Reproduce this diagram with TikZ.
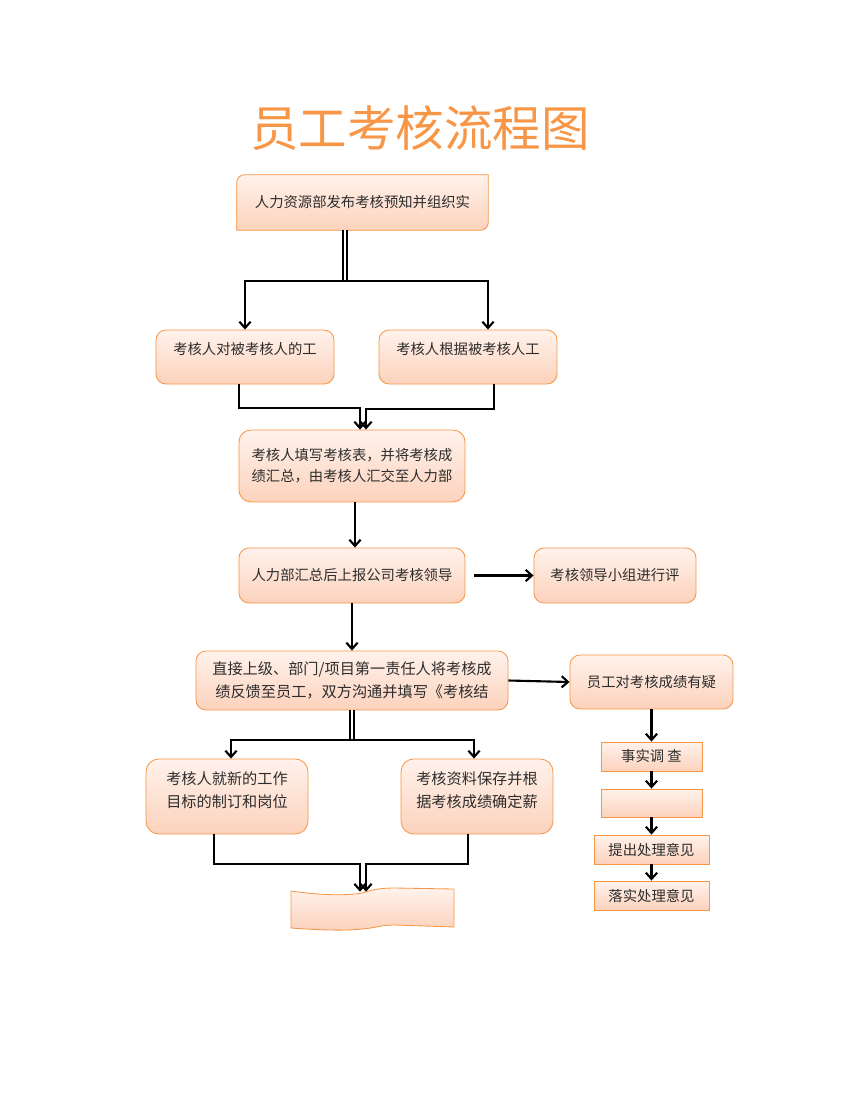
\documentclass[tikz,border=0pt]{standalone}
\usepackage{fontspec}
\setmainfont{Noto Sans CJK SC}
\usetikzlibrary{arrows.meta,backgrounds}
\definecolor{boxline}{RGB}{247,150,70}
\definecolor{boxtop}{RGB}{255,242,236}
\definecolor{boxbot}{RGB}{252,210,188}
\definecolor{txtgray}{RGB}{45,45,45}
\definecolor{headorange}{RGB}{247,150,70}
\tikzset{
  headline/.style={text=headorange, font=\fontsize{34.5pt}{40pt}\selectfont},
  rbox/.style={draw=boxline, line width=0.6pt, rounded corners=0.25cm,
    top color=boxtop, bottom color=boxbot, text=txtgray, align=center,
    inner sep=0pt, font=\fontsize{10.2pt}{15pt}\selectfont},
  sbox/.style={rbox, sharp corners},
  bigtext/.style={font=\fontsize{10.8pt}{16.3pt}\selectfont},
  arr/.style={line width=1.5pt, -{Straight Barb[length=4.5pt,width=8pt]}},
  dbl/.style={double, double distance=2pt, line width=0.9pt},
}
\begin{document}
\begin{tikzpicture}[x=0.025cm, y=-0.025cm]
    \useasboundingbox (0,0) rectangle (850,1100);
    % 标题
    \node[headline] (title) at (420,128) {员工考核流程图};
    % 左列
    \node[text=txtgray, font=\fontsize{10.2pt}{15pt}\selectfont, minimum width=6.275cm, minimum height=1.375cm, inner sep=0pt] (A) at (362.5,202.5) {人力资源部发布考核预知并组织实};
    \begin{scope}[on background layer]
        \draw[draw=boxline, line width=0.6pt, top color=boxtop, bottom color=boxbot] (A.south west) -- ([yshift=-0.2cm]A.north west) arc[start angle=180, end angle=90, radius=0.2cm] -- (A.north east) -- ([yshift=0.2cm]A.south east) arc[start angle=0, end angle=-90, radius=0.2cm] -- cycle;
    \end{scope}
    \node[rbox, minimum width=4.45cm, minimum height=1.35cm, text depth=0.44cm] (B1) at (245,357) {考核人对被考核人的工};
    \node[rbox, minimum width=4.45cm, minimum height=1.35cm, text depth=0.44cm] (B2) at (468,357) {考核人根据被考核人工};
    \node[rbox, minimum width=5.65cm, minimum height=1.8cm, rounded corners=0.3cm] (C) at (352,466) {考核人填写考核表，并将考核成\\绩汇总，由考核人汇交至人力部};
    \node[rbox, minimum width=5.65cm, minimum height=1.375cm] (D) at (352,575.5) {人力部汇总后上报公司考核领导};
    \node[rbox, minimum width=4.05cm, minimum height=1.375cm] (E) at (615,575.5) {考核领导小组进行评};
    \node[rbox, bigtext, minimum width=7.8cm, minimum height=1.475cm] (F) at (352,680.5) {直接上级、部门/项目第一责任人将考核成\\绩反馈至员工，双方沟通并填写《考核结};
    \node[rbox, minimum width=4.075cm, minimum height=1.35cm] (G) at (651.5,682) {员工对考核成绩有疑};
    \node[rbox, bigtext, minimum width=4.05cm, minimum height=1.875cm, rounded corners=0.32cm, text depth=0.34cm] (H1) at (227,796.5) {考核人就新的工作\\目标的制订和岗位};
    \node[rbox, bigtext, minimum width=3.8cm, minimum height=1.875cm, rounded corners=0.32cm, text depth=0.34cm] (H2) at (477,796.5) {考核资料保存并根\\据考核成绩确定薪};
    % 波形框
    \draw[draw=boxline, line width=0.6pt, top color=boxtop, bottom color=boxbot] (291,891) .. controls (318,895) and (345,896) .. (362,893) .. controls (372,890) and (378,888) .. (395,888) -- (454,889) -- (454,927) -- (395,925) .. controls (380,925) and (376,928) .. (362,929) .. controls (345,931) and (318,930) .. (291,928) -- cycle;
    \node[minimum width=4.075cm, minimum height=0.9cm, inner sep=0pt] (I) at (372.5,910) {};
    % 右列
    \node[sbox, minimum width=2.525cm, minimum height=0.725cm] (J) at (651.5,756.5) {事实调 查};
    \node[sbox, minimum width=2.525cm, minimum height=0.7cm] (K) at (651.5,803) {};
    \node[sbox, minimum width=2.875cm, minimum height=0.725cm] (L) at (651.5,849.5) {提出处理意见};
    \node[sbox, minimum width=2.875cm, minimum height=0.725cm] (M) at (651.5,895.5) {落实处理意见};
    % 连线
    \coordinate (splitA) at (345,281);
    \draw[dbl] (A.south -| splitA) -- (splitA);
    \draw[arr] (splitA) -| (B1.north);
    \draw[arr] (splitA) -| ([xshift=0.5cm]B2.north);
    \draw[arr] ([xshift=-0.15cm]B1.south) -- ++(0,24) -| ([xshift=0.2cm]C.north);
    \draw[arr] ([xshift=0.65cm]B2.south) -- ++(0,25) -| ([xshift=0.35cm]C.north);
    \draw[arr] ([xshift=0.075cm]C.south) -- ([xshift=0.075cm]D.north);
    \draw[arr] ([xshift=0.225cm]D.east) -- (E.west);
    \draw[arr] (D.south) -- (F.north);
    \draw[arr] (F.east) -- (G.west);
    \coordinate (splitF) at (352,740);
    \draw[dbl] (F.south) -- (splitF);
    \draw[arr] (splitF) -| ([xshift=0.1cm]H1.north);
    \draw[arr] (splitF) -| ([xshift=-0.075cm]H2.north);
    \draw[arr] ([xshift=-0.325cm]H1.south) -- ++(0,30) -| ([xshift=-0.3125cm]I.north);
    \draw[arr] ([xshift=-0.225cm]H2.south) -- ++(0,30) -| ([xshift=-0.1625cm]I.north);
    \draw[arr] (G.south) -- (J.north);
    \draw[arr] (J.south) -- (K.north);
    \draw[arr] (K.south) -- (L.north);
    \draw[arr] (L.south) -- (M.north);
\end{tikzpicture}
\end{document}
